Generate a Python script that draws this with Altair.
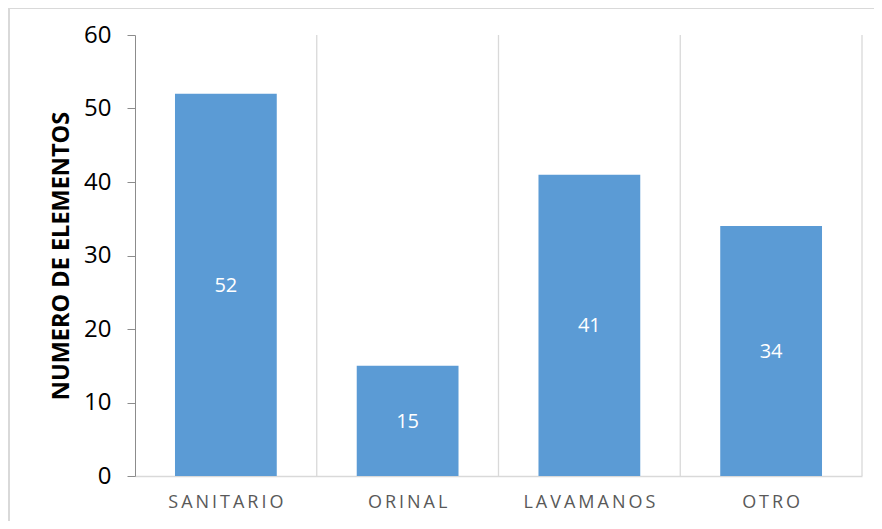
import altair as alt
import pandas as pd

categories = ["SANITARIO", "ORINAL", "LAVAMANOS", "OTRO"]
values = [52, 15, 41, 34]
y_ticks = [0, 10, 20, 30, 40, 50, 60]

df = pd.DataFrame({"cat": categories, "val": values})

FONT = "Open Sans"
x_scale = alt.Scale(domain=categories, paddingInner=0, paddingOuter=0)
y_scale = alt.Scale(domain=[0, 60], nice=False)

x_axis = alt.Axis(title=None, ticks=False, labelPadding=17, labelAngle=0,
                  labelAlign="center", bandPosition=0.5,
                  labelFont=FONT, labelFontSize=18, labelColor="#595959",
                  domainColor="#d9d9d9", domainWidth=1.5,
                  labelExpr="join(split(datum.label, ''), '\u2009')")

base = alt.Chart(df)

bars = base.mark_bar(color="#5b9bd5", width=alt.RelativeBandSize(0.56)).encode(
    x=alt.X("cat:N", scale=x_scale, sort=categories, axis=x_axis),
    y=alt.Y("val:Q", scale=y_scale,
            axis=alt.Axis(title="NUMERO DE ELEMENTOS", values=y_ticks, grid=False,
                          tickSize=8, tickColor="#8c8c8c", domainColor="#8c8c8c",
                          labelPadding=16, labelFont=FONT, labelFontSize=24,
                          labelColor="#000000", titleFont=FONT, titleFontSize=23.5,
                          titleFontWeight="bold", titleColor="#000000",
                          titlePadding=10)),
)

grid = base.mark_rule(color="#d9d9d9", strokeWidth=1.3).encode(
    x=alt.X("cat:N", scale=x_scale, sort=categories, bandPosition=1, axis=x_axis),
    y=alt.value(0), y2=alt.value(441),
)

labels = base.transform_calculate(mid="datum.val / 2").mark_text(
    color="white", font=FONT, fontSize=20, baseline="middle", dy=1
).encode(
    x=alt.X("cat:N", scale=x_scale, sort=categories, axis=x_axis),
    y=alt.Y("mid:Q", scale=y_scale),
    text=alt.Text("val:Q"),
)

border = base.mark_rect(fillOpacity=0, stroke="#d9d9d9", strokeWidth=1.5).encode(
    x=alt.value(-126), x2=alt.value(780), y=alt.value(-27), y2=alt.value(520)
)

chart = alt.layer(bars, grid, labels, border).properties(
    width=727, height=441,
    autosize=alt.AutoSizeParams(type="none"),
    padding={"left": 127, "top": 27, "right": 12, "bottom": 45},
).configure_view(stroke=None)

chart.save("out.html", embed_options={"renderer": "svg", "actions": False})
